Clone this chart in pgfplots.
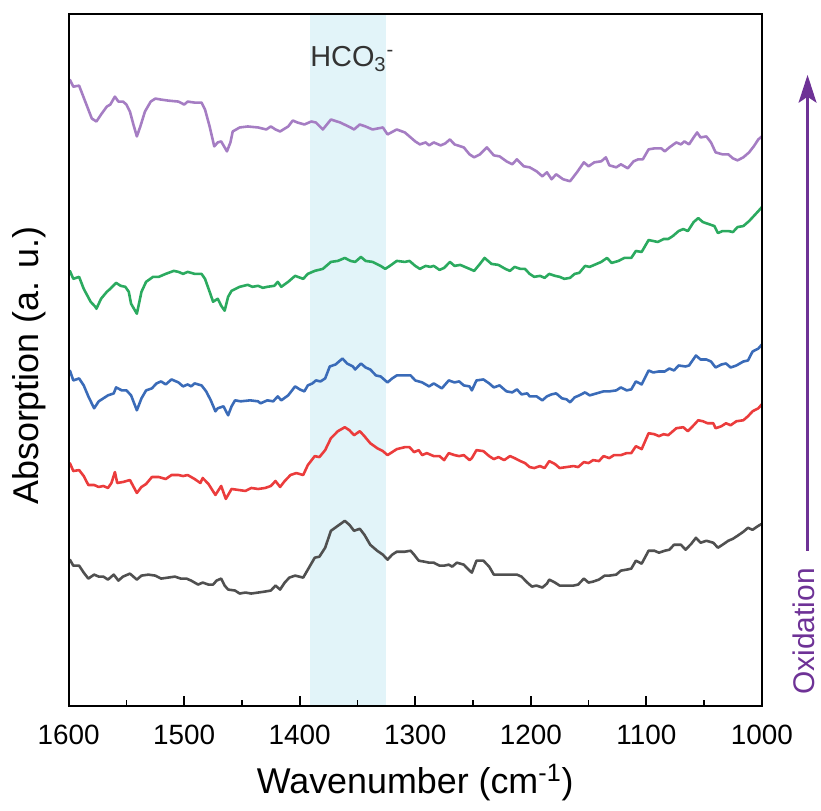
\documentclass[border=0pt]{standalone}
\usepackage{fontspec}
\setmainfont{Liberation Sans}
\usepackage{pgfplots}
\pgfplotsset{compat=1.18}
\usetikzlibrary{arrows.meta}
\definecolor{cpurple}{HTML}{A57DC3}
\definecolor{cgreen}{HTML}{2BAA5F}
\definecolor{cblue}{HTML}{3A6BB8}
\definecolor{cred}{HTML}{EB3C3C}
\definecolor{cblack}{HTML}{505050}
\definecolor{cband}{HTML}{E2F4F9}
\definecolor{carrow}{HTML}{6E3296}
\begin{document}
\begin{tikzpicture}
\begin{axis}[
  at={(0,0)}, anchor=south west,
  scale only axis, width=348pt, height=347.5pt,
  x dir=reverse, xmin=1000, xmax=1600,
  y dir=reverse, ymin=14, ymax=709,
  ytick=\empty,
  xtick={1000,1100,...,1600},
  minor xtick={1050,1150,...,1550},
  tick align=inside,
  xtick pos=bottom,
  major tick length=5pt, minor tick length=3pt,
  axis line style={line width=0.9pt},
  every tick/.style={line width=0.9pt, black},
  /pgf/number format/assume math mode=true,
  /pgf/number format/1000 sep={},
  xticklabel style={font=\fontsize{14}{16}\selectfont, anchor=base, yshift=-19.5pt},
  xlabel={Wavenumber (cm\textsuperscript{-1})},
  ylabel={Absorption (a. u.)},
  every axis x label/.style={at={(rel axis cs:0.5,-0.1266)}, anchor=base, font=\fontsize{18}{20}\selectfont},
  every axis y label/.style={at={(rel axis cs:-0.0575,0.492)}, anchor=center, rotate=90, font=\fontsize{18}{20}\selectfont},
  every axis plot/.append style={line join=round, line cap=round},
  clip=false,
  axis on top,
]
\fill[cband] (axis cs:1391,14) rectangle (axis cs:1325,709);

% purple
\addplot[cpurple, line width=1.3pt] coordinates {
(1599,80)(1596,87)(1591,86)(1589,92)(1584,107)(1580,119)(1576,122)(1572,115)(1567,107)(1564,105)(1560,97)(1557,102)(1553,102)(1550,105)(1547,112)(1544,125)(1541,137)(1538,127)(1534,112)(1529,102)(1525,99)(1520,100)(1514,101)(1505,102)(1500,105)(1497,102)(1491,103)(1485,103)(1482,110)(1478,127)(1474,147)(1471,143)(1468,142)(1465,148)(1463,152)(1460,143)(1458,132)(1452,128)(1445,127)(1436,128)(1429,130)(1425,127)(1421,130)(1417,132)(1410,127)(1406,121)(1402,123)(1396,125)(1390,122)(1386,123)(1380,130)(1373,120)(1365,123)(1356,128)(1353,130)(1348,125)(1343,127)(1337,130)(1328,128)(1324,135)(1316,130)(1309,133)(1304,138)(1300,142)(1296,145)(1291,143)(1288,146)(1284,143)(1278,146)(1274,144)(1270,140)(1266,145)(1258,148)(1253,155)(1249,158)(1244,155)(1238,148)(1232,156)(1227,157)(1221,162)(1216,165)(1212,160)(1206,167)(1201,168)(1195,172)(1190,177)(1186,173)(1182,180)(1178,175)(1172,180)(1166,182)(1160,173)(1154,163)(1150,167)(1145,163)(1139,162)(1135,158)(1132,166)(1126,168)(1122,165)(1116,169)(1111,162)(1107,160)(1103,160)(1098,150)(1093,149)(1087,149)(1084,152)(1080,148)(1074,143)(1070,145)(1067,142)(1063,145)(1059,138)(1056,133)(1053,138)(1048,137)(1044,143)(1040,153)(1034,155)(1029,155)(1025,159)(1021,161)(1016,158)(1011,153)(1007,147)(1003,140)(1000,137)
};

% green
\addplot[cgreen, line width=1.3pt] coordinates {
(1599,272)(1596,280)(1591,278)(1587,290)(1581,303)(1577,308)(1576,310)(1572,300)(1567,293)(1564,290)(1559,284)(1555,287)(1551,288)(1548,293)(1546,305)(1541,315)(1537,293)(1533,283)(1527,278)(1522,278)(1520,277)(1516,275)(1509,272)(1505,273)(1501,275)(1497,273)(1491,275)(1485,275)(1482,280)(1478,293)(1475,303)(1471,300)(1468,307)(1465,312)(1462,298)(1459,292)(1452,288)(1445,286)(1441,288)(1436,287)(1432,289)(1428,288)(1422,287)(1419,283)(1416,288)(1410,283)(1404,277)(1397,280)(1393,275)(1387,272)(1380,270)(1373,263)(1367,262)(1361,259)(1356,262)(1352,263)(1347,258)(1343,262)(1337,263)(1330,267)(1326,270)(1322,267)(1316,262)(1309,263)(1305,262)(1300,267)(1296,270)(1291,267)(1287,268)(1284,267)(1279,271)(1275,269)(1270,263)(1266,267)(1261,266)(1257,268)(1253,270)(1249,272)(1244,265)(1240,259)(1234,265)(1228,266)(1222,270)(1218,272)(1214,268)(1209,270)(1205,270)(1201,275)(1197,278)(1192,277)(1188,279)(1184,275)(1179,277)(1175,278)(1171,280)(1166,279)(1162,275)(1158,274)(1153,267)(1149,268)(1143,265)(1139,263)(1134,259)(1130,264)(1124,262)(1119,259)(1113,259)(1109,252)(1104,253)(1098,241)(1094,242)(1090,243)(1085,240)(1081,240)(1077,237)(1072,232)(1068,230)(1064,232)(1059,223)(1055,219)(1051,223)(1046,225)(1041,227)(1038,234)(1034,232)(1029,232)(1025,233)(1021,228)(1016,227)(1011,222)(1007,217)(1003,212)(1000,208)
};

% blue
\addplot[cblue, line width=1.3pt] coordinates {
(1599,372)(1596,382)(1591,380)(1587,387)(1583,398)(1578,410)(1574,403)(1570,400)(1566,397)(1561,395)(1559,389)(1554,392)(1550,392)(1546,397)(1541,412)(1537,400)(1533,392)(1528,390)(1524,385)(1520,383)(1516,386)(1511,381)(1505,384)(1501,388)(1497,386)(1494,388)(1491,385)(1485,387)(1481,393)(1477,402)(1473,413)(1471,410)(1466,408)(1462,417)(1459,408)(1456,402)(1451,403)(1443,402)(1436,403)(1434,405)(1428,402)(1423,403)(1419,398)(1416,402)(1410,397)(1404,388)(1400,391)(1396,393)(1393,387)(1389,385)(1386,382)(1382,383)(1378,380)(1374,368)(1369,366)(1363,360)(1359,365)(1354,368)(1352,371)(1347,365)(1343,369)(1339,371)(1334,377)(1330,378)(1324,384)(1320,380)(1316,377)(1309,377)(1304,377)(1300,382)(1294,384)(1288,388)(1284,385)(1277,390)(1271,382)(1266,384)(1262,383)(1258,387)(1253,388)(1251,392)(1247,382)(1241,381)(1236,385)(1232,389)(1227,387)(1221,393)(1216,394)(1212,391)(1208,396)(1203,395)(1201,398)(1195,398)(1190,402)(1186,398)(1182,396)(1178,395)(1173,400)(1169,401)(1166,404)(1162,399)(1158,397)(1153,394)(1149,397)(1143,395)(1137,393)(1132,393)(1126,392)(1122,389)(1117,392)(1113,391)(1109,383)(1104,386)(1098,372)(1094,374)(1089,373)(1084,373)(1080,370)(1076,372)(1072,367)(1066,368)(1063,367)(1057,357)(1053,361)(1048,361)(1044,363)(1040,369)(1035,366)(1031,365)(1027,369)(1022,367)(1016,363)(1012,362)(1008,353)(1003,350)(1000,346)
};

% red
\addplot[cred, line width=1.3pt] coordinates {
(1599,465)(1596,473)(1591,472)(1587,478)(1583,487)(1578,487)(1574,489)(1570,488)(1566,490)(1563,485)(1560,474)(1558,485)(1553,484)(1547,482)(1541,495)(1537,489)(1533,486)(1528,479)(1522,479)(1516,481)(1511,477)(1505,477)(1501,478)(1497,477)(1491,481)(1486,485)(1484,480)(1479,486)(1473,497)(1468,488)(1464,501)(1459,491)(1453,492)(1447,493)(1442,490)(1436,491)(1430,490)(1425,488)(1421,483)(1417,489)(1413,483)(1408,477)(1403,475)(1397,477)(1393,467)(1387,458)(1383,459)(1378,452)(1373,440)(1367,433)(1361,429)(1357,432)(1353,437)(1348,433)(1344,438)(1339,445)(1333,450)(1328,453)(1324,457)(1320,454)(1316,451)(1309,449)(1305,449)(1301,454)(1297,452)(1294,457)(1290,455)(1284,458)(1279,458)(1275,462)(1271,455)(1266,457)(1262,458)(1258,457)(1253,462)(1251,460)(1247,452)(1241,453)(1236,458)(1232,461)(1228,459)(1223,462)(1218,458)(1214,460)(1209,463)(1205,465)(1201,469)(1197,470)(1192,468)(1188,470)(1184,463)(1179,466)(1175,470)(1169,469)(1163,468)(1159,469)(1154,464)(1150,465)(1146,462)(1141,463)(1137,458)(1132,460)(1128,457)(1122,457)(1117,455)(1113,455)(1109,448)(1104,451)(1098,435)(1093,436)(1089,438)(1085,436)(1081,437)(1077,433)(1074,430)(1068,429)(1064,433)(1059,427)(1055,422)(1051,423)(1047,425)(1042,425)(1040,430)(1035,428)(1031,425)(1027,427)(1022,423)(1016,422)(1012,418)(1008,413)(1003,410)(1000,406)
};

% black
\addplot[cblack, line width=1.3pt] coordinates {
(1599,562)(1596,568)(1591,568)(1587,575)(1583,581)(1578,577)(1574,579)(1570,579)(1566,582)(1561,577)(1557,583)(1553,579)(1547,576)(1541,582)(1537,578)(1531,577)(1525,578)(1520,581)(1514,580)(1508,579)(1503,581)(1498,581)(1494,583)(1488,587)(1484,585)(1479,587)(1475,587)(1472,583)(1468,581)(1465,588)(1462,592)(1456,593)(1452,596)(1447,595)(1442,596)(1436,595)(1430,594)(1425,593)(1421,588)(1417,592)(1413,585)(1409,580)(1404,578)(1397,580)(1393,572)(1387,560)(1383,559)(1378,550)(1373,533)(1367,528)(1361,523)(1357,527)(1353,533)(1348,531)(1344,537)(1339,547)(1333,553)(1328,557)(1324,562)(1320,557)(1316,554)(1309,554)(1304,553)(1301,557)(1297,563)(1292,564)(1288,565)(1284,565)(1279,568)(1275,568)(1271,567)(1268,569)(1264,565)(1258,567)(1253,573)(1251,575)(1247,563)(1241,563)(1236,569)(1232,577)(1227,577)(1221,577)(1216,577)(1212,577)(1208,579)(1203,585)(1199,589)(1195,588)(1190,590)(1186,586)(1184,582)(1179,585)(1175,588)(1169,588)(1163,588)(1159,587)(1154,581)(1150,585)(1146,584)(1141,582)(1136,578)(1132,578)(1126,577)(1122,573)(1117,572)(1113,571)(1109,563)(1104,566)(1098,553)(1093,553)(1089,555)(1084,553)(1080,552)(1076,547)(1070,547)(1066,552)(1061,546)(1057,540)(1053,545)(1048,543)(1042,545)(1038,550)(1034,547)(1029,543)(1025,541)(1021,538)(1016,534)(1012,530)(1008,532)(1003,528)(1000,526)
};

\node[anchor=base west, text=black!80, font=\fontsize{14.5}{16}\selectfont, inner sep=0pt] at (rel axis cs:0.348,0.9237) {HCO\textsubscript{3}\textsuperscript{-}};
\draw[carrow, line width=1.2pt, -{Stealth[length=14pt, width=9pt, inset=3pt]}] (rel axis cs:1.066,0.2245) -- (rel axis cs:1.066,0.912);
\node[rotate=90, anchor=center, text=carrow, font=\fontsize{15}{16}\selectfont] at (rel axis cs:1.060,0.108) {Oxidation};
\end{axis}
\path[use as bounding box] (-34.5pt,-52.5pt) rectangle (376pt,354.5pt);
\end{tikzpicture}
\end{document}
